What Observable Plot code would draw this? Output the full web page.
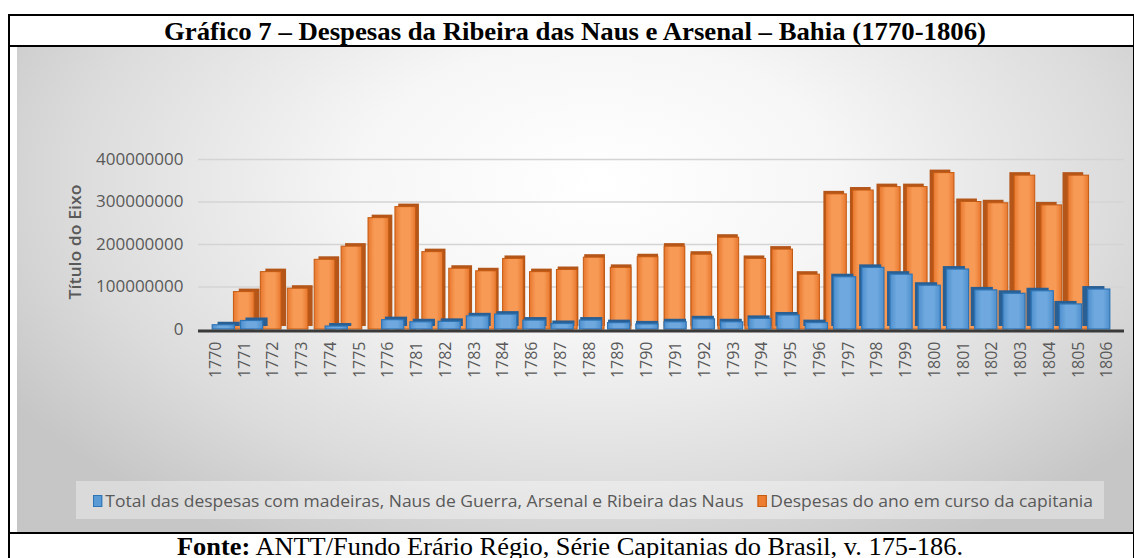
<!DOCTYPE html>
<html><head><meta charset="utf-8">
<script src="https://cdn.jsdelivr.net/npm/d3@7"></script>
<script src="https://cdn.jsdelivr.net/npm/@observablehq/plot@0.6"></script>
<style>
html,body{margin:0;padding:0;background:#fff;}
body{position:relative;width:1134px;height:558px;overflow:hidden;}
.line{position:absolute;background:#000;}
#chartbg{position:absolute;left:17px;top:47px;width:1117px;height:485px;
  background:radial-gradient(ellipse 62% 85% at 52% 28%, #ffffff 0%, #f6f6f6 35%, #dcdcdc 75%, #c6c6c6 100%);}
#plot{position:absolute;left:0;top:0;}
#plot svg{background:transparent !important;overflow:visible;}
.fit{position:absolute;white-space:nowrap;transform-origin:0 0;}
#title{font-family:'Liberation Serif','Times New Roman',serif;font-weight:bold;font-size:26px;line-height:26px;left:164px;top:19px;color:#000;}
#footer{font-family:'Liberation Serif','Times New Roman',serif;font-size:25px;line-height:25px;left:177px;top:534px;color:#000;}
#legend{position:absolute;left:76px;top:481px;width:1028px;height:38px;background:rgba(255,255,255,0.35);}
#legendInner{position:absolute;left:93px;top:489px;height:24px;line-height:24px;font-family:'Open Sans',sans-serif;font-size:17px;color:#595959;white-space:nowrap;display:flex;align-items:center;transform-origin:0 50%;}
.sw{display:inline-block;width:9px;height:12px;margin-right:3px;box-sizing:border-box;}
#ytitle{position:absolute;font-family:'Open Sans',sans-serif;font-weight:600;font-size:16px;line-height:18px;color:#595959;white-space:nowrap;transform-origin:50% 50%;}
</style>
</head><body>
<div id="chartbg"></div>
<div id="legend"></div>
<div id="plot"></div>
<div id="legendInner"></div>
<div id="ytitle"></div>
<div id="title" class="fit"></div>
<div id="footer" class="fit"></div>
<div class="line" style="left:8px;top:14px;width:1126px;height:2px"></div>
<div class="line" style="left:8px;top:14px;width:2px;height:544px"></div>
<div class="line" style="left:1133px;top:14px;width:1px;height:544px"></div>
<div class="line" style="left:8px;top:45px;width:1126px;height:2px"></div>
<div class="line" style="left:8px;top:532px;width:1126px;height:2px"></div>
<script>
// ---- data ----
const years = ["1770","1771","1772","1773","1774","1775","1776","1781","1782","1783","1784","1786","1787","1788","1789","1790","1791","1792","1793","1794","1795","1796","1797","1798","1799","1800","1801","1802","1803","1804","1805","1806"];
const madeirasNaus = [10e6,20e6,0,0,7e6,0,22e6,17e6,18e6,31e6,35e6,21e6,13e6,21e6,15e6,12e6,17e6,24e6,17e6,25e6,33e6,15e6,123e6,145e6,129e6,103e6,141e6,92e6,84e6,90e6,59e6,94e6];
const despesasAno = [88e6,135e6,96e6,164e6,195e6,262e6,288e6,182e6,143e6,137e6,166e6,135e6,140e6,169e6,145e6,170e6,195e6,176e6,216e6,166e6,188e6,129e6,318e6,327e6,335e6,335e6,368e6,300e6,297e6,362e6,292e6,362e6];
const yTicks = [0,100000000,200000000,300000000,400000000];
const seriesNames = ["Total das despesas com madeiras, Naus de Guerra, Arsenal e Ribeira das Naus","Despesas do ano em curso da capitania"];
const titleText = "Gráfico 7 – Despesas da Ribeira das Naus e Arsenal – Bahia (1770-1806)";
const yLabel = "Título do Eixo";
const sourceBold = "Fonte:";
const sourceText = " ANTT/Fundo Erário Régio, Série Capitanias do Brasil, v. 175-186.";

const data = years.map((year, i) => ({i, year, blue: madeirasNaus[i], orange: despesasAno[i]}));

// perspective (3D look): front row and back row converge toward the centre
const MID = (years.length - 1) / 2;
const FRONT = 0.982, FRONT_SIDE = 0.970, BACK = 0.936, BACK_SIDE = 0.924;
const BW = 0.77, OW = 0.72;
const pos = (i, k) => MID + k * (i - MID);

const plot = Plot.plot({
  width: 1134, height: 400,
  marginLeft: 198, marginRight: 10, marginTop: 159, marginBottom: 71,
  style: {background: "transparent", color: "#595959", fontFamily: "'Open Sans', sans-serif", fontSize: "16px"},
  x: {type: "linear", domain: [-0.6, years.length - 0.4]},
  y: {domain: [0, 400000000]},
  marks: [
    Plot.ruleY(yTicks.filter(d => d > 0), {stroke: "#d4d4d4", strokeWidth: 1.6}),
    // back row: despesas do ano
    Plot.rectY(data, {x1: d => pos(d.i, BACK_SIDE) - OW/2, x2: d => pos(d.i, BACK_SIDE) + OW/2, y: "orange", dy: -3, fill: "#b4561a"}),
    Plot.rectY(data, {x1: d => pos(d.i, BACK) - OW/2, x2: d => pos(d.i, BACK) + OW/2, y: "orange", fill: "url(#gOrange)", stroke: "#c55a11", strokeWidth: 1}),
    // front row: madeiras, naus...
    Plot.rectY(data, {filter: d => d.blue > 0, x1: d => pos(d.i, FRONT_SIDE) - BW/2, x2: d => pos(d.i, FRONT_SIDE) + BW/2, y: "blue", dy: -3, fill: "#2a5f94"}),
    Plot.rectY(data, {filter: d => d.blue > 0, x1: d => pos(d.i, FRONT) - BW/2, x2: d => pos(d.i, FRONT) + BW/2, y: "blue", fill: "url(#gBlue)", stroke: "#2e75b6", strokeWidth: 1.2}),
    Plot.ruleY([0], {stroke: "#3a3a3a", strokeWidth: 3, dy: 1.5}),
    Plot.axisY(yTicks, {tickSize: 0, tickPadding: 15, tickFormat: d => String(d), label: null, fontSize: 17}),
    Plot.axisX(d3.range(years.length), {tickSize: 0, tickPadding: 12, tickRotate: -90, tickFormat: i => years[i], label: null, fontSize: 16})
  ]
});
document.getElementById("plot").appendChild(plot);

// gradients for the bar faces
const defs = d3.select(plot).insert("defs", ":first-child");
const grad = (id, stops) => {
  const g = defs.append("linearGradient").attr("id", id).attr("x1", 0).attr("x2", 1).attr("y1", 0).attr("y2", 0);
  stops.forEach(([o, c]) => g.append("stop").attr("offset", o).attr("stop-color", c));
};
grad("gOrange", [[0, "#e8772e"], [0.3, "#f79a55"], [0.7, "#f79a55"], [1, "#e8772e"]]);
grad("gBlue", [[0, "#4e8fce"], [0.3, "#6ea8de"], [0.7, "#6ea8de"], [1, "#4e8fce"]]);

// title & footer
const t = document.getElementById("title");
t.textContent = titleText;
const f = document.getElementById("footer");
f.innerHTML = "";
const fb = document.createElement("b"); fb.textContent = sourceBold; f.appendChild(fb);
f.appendChild(document.createTextNode(sourceText));
function fit(el, target) {
  const w = el.getBoundingClientRect().width;
  el.style.transform = `scaleX(${target / w})`;
}
fit(t, 822);
fit(f, 786);

// legend
const li = document.getElementById("legendInner");
const colors = [["#5b9bd5", "#2e75b6"], ["#ed7d31", "#c55a11"]];
seriesNames.forEach((name, k) => {
  const sw = document.createElement("span");
  sw.className = "sw";
  sw.style.background = colors[k][0];
  sw.style.border = `1.5px solid ${colors[k][1]}`;
  if (k > 0) sw.style.marginLeft = "14px";
  li.appendChild(sw);
  const s = document.createElement("span");
  s.textContent = name;
  li.appendChild(s);
});
fit(li, 1000);

// y axis title
const yt = document.getElementById("ytitle");
yt.textContent = yLabel;
const r = yt.getBoundingClientRect();
yt.style.left = (75 - r.width / 2) + "px";
yt.style.top = (242 - r.height / 2) + "px";
yt.style.transform = `rotate(-90deg) scaleX(${115 / r.width})`;
</script>
</body></html>
